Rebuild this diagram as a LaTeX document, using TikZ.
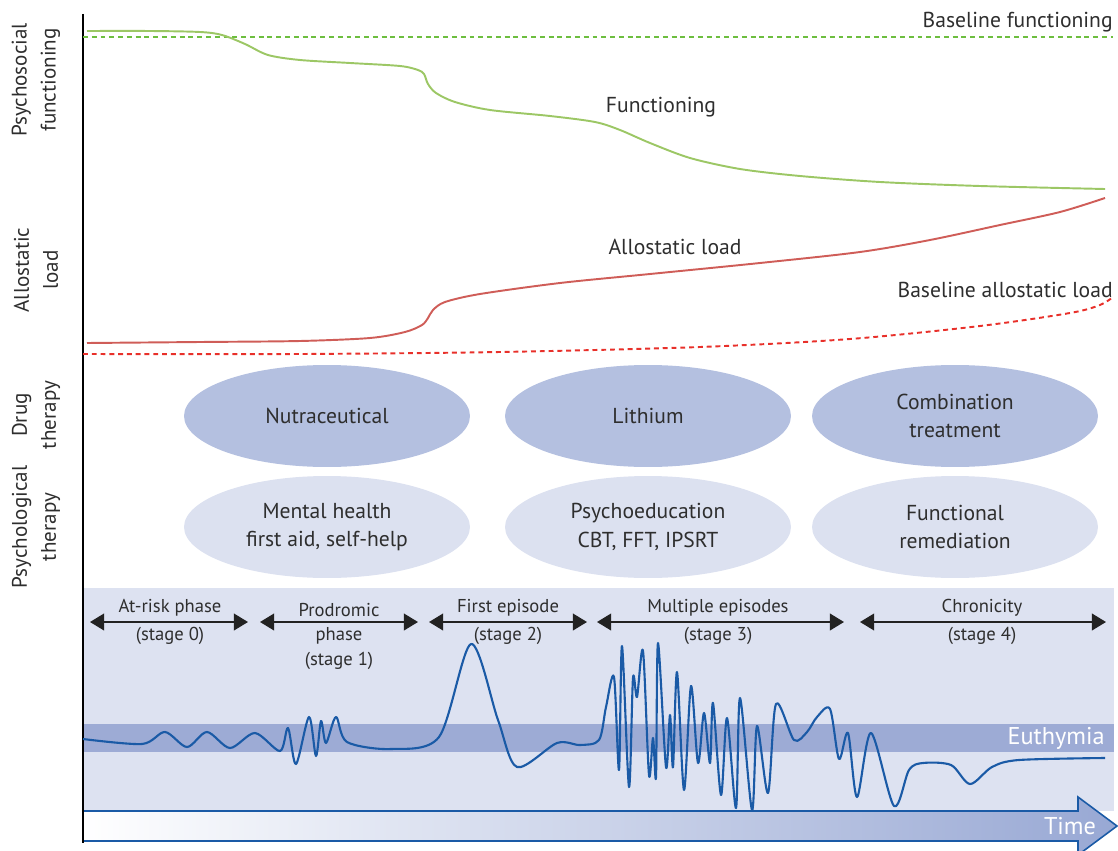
\documentclass[tikz,border=0pt]{standalone}
\usepackage{fontspec}
\setmainfont{PT Sans}
\usetikzlibrary{shapes,arrows.meta,positioning}

\definecolor{textgray}{HTML}{2E2E2E}
\definecolor{panelfill}{HTML}{DDE2F1}
\definecolor{drugfill}{HTML}{B4C0E0}
\definecolor{psychfill}{HTML}{DCE1F0}
\definecolor{bandfill}{HTML}{9DABD5}
\definecolor{timefill}{HTML}{98A8D4}
\definecolor{moodblue}{HTML}{1A5AA6}
\definecolor{funcgreen}{HTML}{9CC765}
\definecolor{basegreen}{HTML}{6DBE3F}
\definecolor{loadred}{HTML}{CF5D58}
\definecolor{basered}{HTML}{E8302A}
\definecolor{arrowgray}{HTML}{222222}

\begin{document}
\begin{tikzpicture}[
    x=0.02cm, y=-0.02cm,
    axislabel/.style={rotate=90, align=center, text=textgray, inner sep=0pt, font=\fontsize{12}{16.5}\selectfont},
    drugbox/.style={ellipse, minimum width=5.72cm, minimum height=2.04cm, inner sep=0pt, fill=drugfill, text=textgray, align=center, font=\fontsize{12.3}{16}\selectfont},
    psychbox/.style={drugbox, fill=psychfill},
    curvelabel/.style={text=textgray, inner sep=0pt, font=\fontsize{12.3}{14}\selectfont},
    stagetext/.style={text=textgray, align=center, inner sep=0pt, font=\fontsize{10.6}{14.4}\selectfont},
    stagearrow/.style={{Triangle[length=8pt,width=9.5pt]}-{Triangle[length=8pt,width=9.5pt]}, line width=0.9pt, draw=arrowgray},
    whitelabel/.style={text=white, inner sep=0pt, font=\fontsize{13.8}{16}\selectfont},
    baseline/.style={line width=1.1pt, dash pattern=on 2.8pt off 2.2pt}
]
\useasboundingbox (0,0) rectangle (1118,851);

% Stage panel and euthymia band
\fill[panelfill] (83,588) rectangle (1114,811);
\fill[bandfill] (83,724) rectangle (1114,752);

% Time arrow
\shade[left color=white, right color=timefill] (83,811) -- (1078,811) -- (1078,797) -- (1117,826) -- (1078,855) -- (1078,841) -- (83,841) -- cycle;
\draw[moodblue, line width=0.9pt] (83,811) -- (1078,811) -- (1078,797) -- (1117,826) -- (1078,855) -- (1078,841) -- (83,841);

% Axis
\draw[black, line width=1.2pt] (83,14) -- (83,843);

% Baselines
\draw[baseline, basegreen] (83,37) -- (1113,37);
\draw[baseline, basered] plot[smooth] coordinates {(83,354) (300,354) (500,352) (700,347) (850,339) (980,326) (1070,313) (1100,305) (1113,297)};

% Functioning and allostatic load
\draw[funcgreen, line width=1.1pt] plot[smooth, tension=0.5] coordinates {(87,31) (150,31) (200,32) (222,35) (245,44) (268,55) (300,60) (350,63) (400,66) (418,70) (424,74) (428,84) (436,93) (455,102) (490,110) (550,116) (595,122) (620,130) (650,143) (690,158) (740,169) (800,176) (880,182) (980,186) (1105,189)};
\draw[loadred, line width=1.1pt] plot[smooth, tension=0.5] coordinates {(87,343) (200,342) (300,341) (370,338) (405,332) (422,325) (428,318) (433,310) (445,302) (480,294) (560,283) (650,274) (760,263) (860,252) (930,240) (1000,225) (1060,212) (1105,198)};

% Mood course
\draw[moodblue, line width=1.2pt, line join=round] plot[smooth, tension=0.5] coordinates {(83,739) (142,744) (165,732) (187,747) (207,732) (230,748) (255,733) (280,751) (288,728) (296,764) (309,717) (316,756) (321,721) (326,743) (336,717) (347,742) (391,749) (439,737) (471,644) (498,720) (517,767) (557,743) (580,745) (599,740) (606,707) (614,677) (619,770) (622,646) (629,787) (633,678) (637,697) (643,651) (649,775) (653,738) (656,777) (658,643) (666,767) (670,715) (673,767) (677,672) (684,790) (691,686) (698,763) (704,713) (710,763) (713,703) (721,795) (727,718) (736,808) (740,698) (752,810) (757,726) (768,793) (776,704) (794,740) (807,732) (817,717) (830,709) (839,759) (848,733) (857,797) (871,733) (894,806) (909,770) (923,763) (951,765) (970,784) (992,767) (1019,760) (1105,758)};

% Axis labels
\node[axislabel] (psysoc) at (36,80) {Psychosocial\\functioning};
\node[axislabel] (alload) at (36,270) {Allostatic\\load};
\node[axislabel] (drugth) at (36,415) {Drug\\therapy};
\node[axislabel] (psychth) at (36,527) {Psychological\\therapy};

% Curve labels
\node[curvelabel, anchor=east] (basefunc) at (1113,22) {Baseline functioning};
\node[curvelabel] (func) at (661,107) {Functioning};
\node[curvelabel] (load) at (675,247) {Allostatic load};
\node[curvelabel, anchor=east] (baseload) at (1113,290) {Baseline allostatic load};

% Treatments
\node[drugbox] (nutra) at (327,416) {Nutraceutical};
\node[drugbox] (lithium) at (648,416) {Lithium};
\node[drugbox] (combi) at (955,416) {Combination\\treatment};
\node[psychbox] (firstaid) at (327,527) {Mental health\\first aid, self-help};
\node[psychbox] (psyedu) at (648,527) {Psychoeducation\\CBT, FFT, IPSRT};
\node[psychbox] (remed) at (955,527) {Functional\\remediation};

% Stages
\coordinate (riskL) at (90,622);  \coordinate (riskR) at (248,622);
\coordinate (prodL) at (260,622); \coordinate (prodR) at (418,622);
\coordinate (firstL) at (429,622); \coordinate (firstR) at (587,622);
\coordinate (multiL) at (597,622); \coordinate (multiR) at (844,622);
\coordinate (chronL) at (860,622); \coordinate (chronR) at (1106,622);
\draw[stagearrow] (riskL) -- (riskR);
\draw[stagearrow] (prodL) -- (prodR);
\draw[stagearrow] (firstL) -- (firstR);
\draw[stagearrow] (multiL) -- (multiR);
\draw[stagearrow] (chronL) -- (chronR);

\node[stagetext, anchor=south] (risktop) at (170,617) {At-risk phase};
\node[stagetext, anchor=north] (riskbot) at (170,627) {(stage 0)};
\node[stagetext, anchor=south] (prodtop) at (339,617) {Prodromic};
\node[stagetext, anchor=north] (prodbot) at (339,627) {phase\\(stage 1)};
\node[stagetext, anchor=south] (firsttop) at (508,617) {First episode};
\node[stagetext, anchor=north] (firstbot) at (508,627) {(stage 2)};
\node[stagetext, anchor=south] (multitop) at (718,617) {Multiple episodes};
\node[stagetext, anchor=north] (multibot) at (718,627) {(stage 3)};
\node[stagetext, anchor=south] (chrontop) at (982,617) {Chronicity};
\node[stagetext, anchor=north] (chronbot) at (982,627) {(stage 4)};

% Band and time labels
\node[whitelabel, anchor=east] (euthymia) at (1105,738) {Euthymia};
\node[whitelabel] (time) at (1070,826) {Time};

\end{tikzpicture}
\end{document}
